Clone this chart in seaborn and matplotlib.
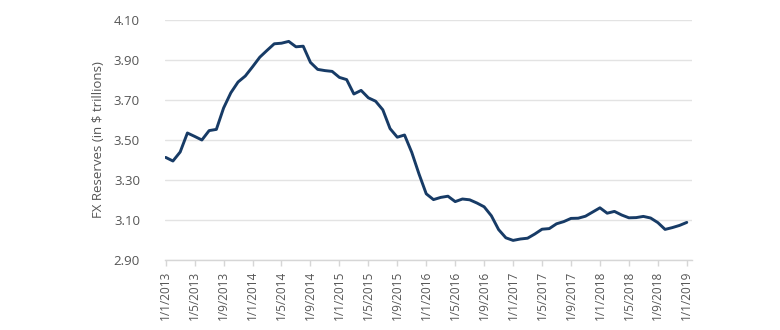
import numpy as np
import pandas as pd
import matplotlib
matplotlib.use("Agg")
import matplotlib.pyplot as plt
import seaborn as sns

# Monthly FX reserves, Jan 2013 - Jan 2019 (in $ trillions)
months = pd.date_range("2013-01-01", "2019-01-01", freq="MS")
reserves = [
    3.413, 3.395, 3.440, 3.535, 3.518, 3.500, 3.547, 3.553, 3.660, 3.736, 3.790, 3.820,
    3.866, 3.914, 3.948, 3.981, 3.984, 3.993, 3.966, 3.969, 3.888, 3.853, 3.847, 3.843,
    3.813, 3.802, 3.730, 3.748, 3.711, 3.694, 3.651, 3.557, 3.514, 3.525, 3.438, 3.330,
    3.231, 3.202, 3.213, 3.219, 3.192, 3.205, 3.201, 3.185, 3.166, 3.121, 3.052, 3.011,
    2.998, 3.005, 3.009, 3.030, 3.054, 3.057, 3.081, 3.092, 3.108, 3.109, 3.119, 3.140,
    3.161, 3.134, 3.143, 3.125, 3.111, 3.112, 3.118, 3.110, 3.087, 3.053, 3.062, 3.073,
    3.088,
]
y_ticks = [2.90, 3.10, 3.30, 3.50, 3.70, 3.90, 4.10]
tick_every = 4  # months between x tick labels

df = pd.DataFrame({"month": np.arange(len(months)), "reserves": reserves})
tick_pos = df["month"][::tick_every]
tick_labels = [f"{d.day}/{d.month}/{d.year}" for d in months[::tick_every]]

sns.set_style("white")
plt.rcParams["font.family"] = ["Open Sans", "DejaVu Sans"]

fig = plt.figure(figsize=(7.8, 3.3), dpi=100)
ax = fig.add_axes([0.2115, 0.2121, 0.6755, 0.7273])

sns.lineplot(data=df, x="month", y="reserves", ax=ax,
             color="#173b66", linewidth=2.1)

ax.set_ylim(2.90, 4.10)
ax.set_yticks(y_ticks)
ax.set_yticklabels([f"{v:.2f}" for v in y_ticks])
ax.set_xlim(-0.1, len(months) - 1 + 0.7)
ax.set_xticks(tick_pos)
ax.set_xticklabels(tick_labels, rotation=90)

ax.yaxis.grid(True, color="#e3e3e3", linewidth=1.0)
ax.set_axisbelow(True)
for s in ["top", "right", "left"]:
    ax.spines[s].set_visible(False)
ax.spines["bottom"].set_color("#d6d6d6")
ax.spines["bottom"].set_linewidth(1.0)

ax.tick_params(axis="x", colors="#d6d6d6", labelcolor="#555555",
               length=4, width=1, direction="out", labelsize=8.5, pad=4, bottom=True)
ax.tick_params(axis="y", length=0, labelcolor="#555555", labelsize=9.5, pad=18)

ax.set_xlabel("")
ax.set_ylabel("FX Reserves (in $ trillions)", color="#555555", fontsize=9.5, labelpad=6)

fig.savefig("out.png", dpi=100)
